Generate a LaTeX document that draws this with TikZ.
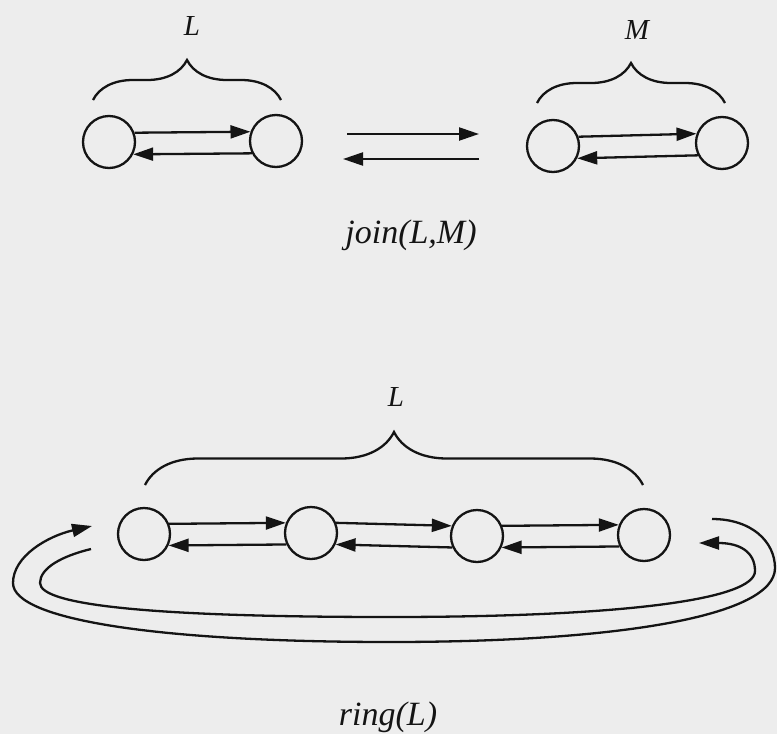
\documentclass[tikz,border=0pt]{standalone}
\usepackage{fontspec}
\setmainfont{Liberation Serif}
\usetikzlibrary{arrows.meta,decorations.pathreplacing}
\definecolor{bgc}{RGB}{237,237,237}
\definecolor{ink}{RGB}{20,20,20}
\begin{document}
\begin{tikzpicture}[x=1pt,y=-1pt,
  ln/.style={line width=2.3pt,draw=ink},
  cnode/.style={circle,ln,minimum size=52pt,inner sep=0pt},
  arr/.style={ln,-{Triangle[length=20pt,width=13pt]}},
  brc/.style={ln,decorate,decoration={brace,amplitude=#1}},
  lab/.style={font=\fontsize{29}{33}\selectfont\itshape,text=ink,anchor=base,inner sep=0pt},
  captxt/.style={font=\fontsize{34}{40}\selectfont\itshape,text=ink,anchor=base,inner sep=0pt}]
\fill[bgc] (0,0) rectangle (777,734);
\useasboundingbox (0,0) rectangle (777,734);
% ---- join ----
\node[cnode] (a1) at (109,142) {};
\node[cnode] (a2) at (276,141) {};
\node[cnode] (m1) at (553,146) {};
\node[cnode] (m2) at (722,143) {};
\draw[arr] (a1.20) -- (a2.160);
\draw[arr] (a2.-153) -- (a1.-27);
\draw[arr] (m1.20) -- (m2.160);
\draw[arr] (m2.-153) -- (m1.-27);
\coordinate (j1) at (347,134);
\coordinate (j2) at (479,134);
\coordinate (j3) at (479,159);
\coordinate (j4) at (343,159);
\draw[arr] (j1) -- (j2);
\draw[arr] (j3) -- (j4);
\draw[brc=40pt] (93,100) -- (281,100);
\draw[brc=40pt] (537,103) -- (725,103);
\node[lab] (tL) at (192,35) {L};
\node[lab] (tM) at (637,39) {M};
\node[captxt] (tj) at (411,243) {join(L,M)};
% ---- ring ----
\node[cnode] (r1) at (144,534) {};
\node[cnode] (r2) at (311,533) {};
\node[cnode] (r3) at (477,536) {};
\node[cnode] (r4) at (644,535) {};
\foreach \p/\q in {r1/r2,r2/r3,r3/r4}{
  \draw[arr] (\p.22) -- (\q.158);
  \draw[arr] (\q.-155) -- (\p.-25);
}
\draw[brc=53pt] (145,485) -- (643,485);
\node[lab] (bL) at (396,406) {L};
\node[captxt] (tr) at (388,725) {ring(L)};
% loops
\coordinate (o1) at (712,519);
\coordinate (o2) at (92,526);
\coordinate (i1) at (91,549);
\coordinate (i2) at (699,543);
\draw[arr] (o1) .. controls (752,519) and (775,542) .. (775,568)
  .. controls (775,616) and (620,642) .. (390,642)
  .. controls (160,642) and (13,620) .. (13,583)
  .. controls (13,556) and (48,536) .. (o2);
\draw[arr] (i1) .. controls (62,556) and (40,568) .. (40,583)
  .. controls (40,606) and (160,617) .. (390,617)
  .. controls (620,617) and (755,600) .. (755,571)
  .. controls (755,552) and (740,543) .. (i2);
\end{tikzpicture}
\end{document}
